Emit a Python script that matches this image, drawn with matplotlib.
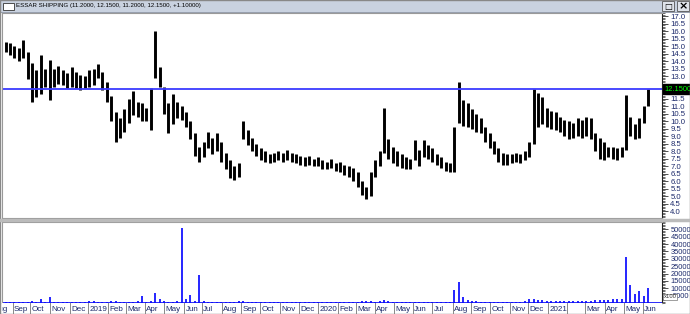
import numpy as np
import pandas as pd
import matplotlib
matplotlib.use("Agg")
import matplotlib.pyplot as plt
import matplotlib.patches as patches
from matplotlib.ticker import MultipleLocator, FixedLocator

# weekly bars, week ending Friday, Aug 2018 .. Jun 2021 (148 weeks)
week_end = pd.date_range("2018-08-17", "2021-06-11", freq="W-FRI")

high = [
    15.6, 15.3, 15.2,                      # Aug 2018
    15.0, 14.9, 15.4, 14.6,                # Sep
    13.9, 13.4, 14.4, 13.5,                # Oct
    14.1, 13.5, 13.7, 13.4, 13.2,          # Nov
    13.6, 13.3, 13.1, 13.0,                # Dec
    13.4, 13.5, 13.8, 13.3,                # Jan 2019
    12.6, 11.7, 10.6, 10.2,                # Feb
    10.8, 11.5, 12.0, 11.3, 11.2,          # Mar
    10.9, 12.2, 16.0, 13.6,                # Apr
    12.3, 11.2, 11.8, 11.3, 11.0,          # May
    10.6, 10.0, 9.2, 8.3,                  # Jun
    8.6, 9.3, 8.9, 9.2,                    # Jul
    8.6, 7.9, 7.4, 7.0, 7.2,               # Aug
    10.0, 9.4, 8.9, 8.5,                   # Sep
    8.2, 8.0, 7.8, 7.9,                    # Oct
    8.0, 7.9, 8.1, 7.9, 7.8,               # Nov
    7.7, 7.6, 7.7, 7.5,                    # Dec
    7.6, 7.4, 7.3, 7.5, 7.2,               # Jan 2020
    7.3, 7.1, 7.0, 6.9,                    # Feb
    6.6, 6.0, 5.6, 6.6,                    # Mar
    7.4, 8.0, 10.9, 8.8,                   # Apr
    8.3, 8.0, 7.8, 7.6, 7.5,               # May
    8.75, 8.1, 8.75, 8.4,                  # Jun
    8.2, 7.8, 7.6, 7.3, 7.2,               # Jul
    9.6, 12.6, 11.4, 11.2,                 # Aug
    10.8, 10.5, 10.2, 9.6,                 # Sep
    9.2, 8.7, 8.2, 7.9, 7.8,               # Oct
    7.8, 7.9, 7.8, 8.0,                    # Nov
    8.6, 12.15, 11.9, 11.6,                # Dec
    10.9, 10.7, 10.6, 10.3, 10.1,          # Jan 2021
    10.0, 9.9, 10.2, 10.1,                 # Feb
    10.3, 10.2, 9.2, 8.9,                  # Mar
    8.6, 8.3, 8.3, 8.2, 8.3,               # Apr
    11.75, 10.3, 9.8, 10.2,                # May
    11.0, 12.15,                           # Jun
]
low = [
    14.9, 14.6, 14.4,
    14.2, 14.0, 14.2, 12.8,
    11.3, 11.6, 11.8, 12.3,
    11.4, 12.3, 12.5, 12.4, 12.2,
    12.3, 12.2, 12.1, 12.2,
    12.3, 12.4, 12.9, 12.1,
    11.3, 10.0, 8.6, 8.9,
    9.3, 9.9, 10.4, 10.3, 10.0,
    10.0, 9.4, 12.9, 12.3,
    10.5, 9.2, 9.8, 10.2, 10.1,
    9.6, 8.8, 7.7, 7.3,
    7.6, 8.2, 7.8, 8.0,
    7.3, 6.8, 6.2, 6.1, 6.3,
    8.8, 8.4, 8.0, 7.7,
    7.4, 7.3, 7.2, 7.3,
    7.4, 7.3, 7.4, 7.3, 7.2,
    7.1, 7.0, 7.1, 7.0,
    7.0, 6.8, 6.8, 6.9, 6.7,
    6.6, 6.4, 6.3, 6.0,
    5.6, 5.1, 4.8, 5.0,
    6.3, 7.0, 7.9, 7.5,
    7.2, 7.0, 6.9, 6.8, 6.8,
    7.4, 7.0, 7.6, 7.5,
    7.3, 7.1, 6.9, 6.7, 6.6,
    6.6, 9.9, 9.7, 9.6,
    9.5, 9.3, 9.2, 8.6,
    8.2, 7.8, 7.3, 7.1, 7.1,
    7.2, 7.3, 7.2, 7.4,
    7.6, 8.5, 9.6, 9.8,
    9.6, 9.5, 9.4, 9.3, 9.0,
    8.8, 8.9, 9.0, 8.9,
    9.0, 8.8, 8.0, 7.5,
    7.4, 7.6, 7.5, 7.4, 7.6,
    8.1, 9.0, 8.8, 8.9,
    9.9, 11.0,
]
# volume (x100)
volume = [
    300, 400, 500,
    600, 400, 500, 900,
    1200, 800, 2500, 900,
    3800, 1000, 700, 600, 500,
    500, 400, 400, 500,
    1500, 1200, 800, 700,
    900, 1100, 1400, 800,
    600, 700, 800, 1200, 4700,
    900, 1500, 7000, 2500,
    1500, 1000, 900, 1200, 51000,
    2500, 5500, 1500, 19000,
    1500, 900, 700, 600,
    700, 800, 900, 1000, 1200,
    1500, 900, 700, 600,
    500, 500, 400, 500,
    400, 500, 400, 400, 500,
    400, 400, 500, 400,
    500, 400, 500, 400, 500,
    500, 600, 600, 700,
    900, 1200, 1500, 1100,
    900, 1200, 2200, 1300,
    800, 700, 600, 600, 500,
    900, 800, 1000, 700,
    600, 500, 500, 600, 700,
    9000, 14000, 4000, 2000,
    1500, 1200, 1000, 900,
    800, 700, 700, 600, 600,
    700, 800, 900, 1200,
    2500, 2800, 2200, 1800,
    1500, 1600, 1400, 1300, 1200,
    1300, 1500, 1400, 1300,
    1500, 1600, 1800, 2200,
    2000, 2100, 2400, 2600, 3000,
    31000, 12000, 6000, 8000,
    5000, 10000,
]
last_price = 12.15
title = "ESSAR SHIPPING (11.2000, 12.1500, 11.2000, 12.1500, +1.10000)"

month_starts = pd.date_range("2018-08-01", "2021-06-01", freq="BMS")
month_labels = [d.strftime("%Y") if d.month == 1 else d.strftime("%b") for d in month_starts]
month_labels[month_starts.get_loc(pd.Timestamp("2021-02-01"))] = ""

origin = "2018-08-16"
def bday_pos(dates):
    return np.busday_count(origin, np.array(dates, dtype="datetime64[D]"))

x = bday_pos(week_end - pd.Timedelta(days=2))
mx = bday_pos(month_starts)

W, H = 690, 314
fig = plt.figure(figsize=(W / 100, H / 100), dpi=100)
fig.patch.set_facecolor("white")
lab_col = "#1c2a6b"
fam = ["Liberation Sans Narrow", "Liberation Sans", "DejaVu Sans"]

def rect(x0, y0, w, h):
    return [x0 / W, 1 - (y0 + h) / H, w / W, h / H]

# title bar
fig.patches.append(patches.Rectangle((0, 1 - 12 / H), 1, 12 / H, transform=fig.transFigure,
                                     facecolor="#c9d2e0", edgecolor="#8a93a3", lw=0.6))
fig.patches.append(patches.Rectangle((3 / W, 1 - 10 / H), 11 / W, 7 / H, transform=fig.transFigure,
                                     facecolor="white", edgecolor="#333333", lw=0.6))
for bx in (662, 677):
    fig.patches.append(patches.Rectangle((bx / W, 1 - 11 / H), 12 / W, 10 / H, transform=fig.transFigure,
                                         facecolor="#dfe3ea", edgecolor="#555555", lw=0.6))
fig.text(668 / W, 1 - 6 / H, "\u25a1", fontsize=6, ha="center", va="center", color="black")
fig.text(683 / W, 1 - 6 / H, "\u00d7", fontsize=8, ha="center", va="center", color="black", weight="bold")
fig.text(16 / W, 1 - 6 / H, title, fontsize=4.4, family=fam, ha="left", va="center", color="black")

xmin, xmax = 0, 750

# price panel
ax = fig.add_axes(rect(2, 13, 660, 205))
ax.vlines(x, low, high, color="black", lw=2.1)
ax.axhline(last_price, color="#3a3aff", lw=1.3)
ax.set_xlim(xmin, xmax)
ax.set_ylim(3.55, 17.22)
ax.set_xticks([])
ax.yaxis.tick_right()
ax.yaxis.set_major_locator(FixedLocator(np.arange(4.0, 17.01, 0.5)))
ax.yaxis.set_minor_locator(MultipleLocator(0.1))
ax.tick_params(axis="y", which="major", length=4, width=0.6, color="#333333",
               labelsize=5.6, labelcolor=lab_col, pad=2)
ax.tick_params(axis="y", which="minor", length=2, width=0.5, color="#333333")
ax.yaxis.set_major_formatter(plt.FuncFormatter(
    lambda v, p: "" if 11.9 < v < 12.6 else f"{v:.1f}"))
for lbl in ax.get_yticklabels():
    lbl.set_family(fam)
for s in ["left", "top", "bottom"]:
    ax.spines[s].set_color("#999999")
    ax.spines[s].set_linewidth(0.8)
ax.spines["right"].set_color("#222222")
ax.spines["right"].set_linewidth(0.8)
ax.text(1.003, (last_price - 3.55) / (17.22 - 3.55), f"{last_price:.4f}", transform=ax.transAxes,
        ha="left", va="center", fontsize=5.4, family=fam, color="#00ff00",
        bbox=dict(boxstyle="square,pad=0.15", facecolor="black", edgecolor="black"))

# volume panel
vax = fig.add_axes(rect(2, 222, 660, 81))
vax.vlines(x, 0, volume, color="#0000ff", lw=1.2)
vax.axhline(0, color="#0000ff", lw=1.2)
vax.set_xlim(xmin, xmax)
vax.set_ylim(0, 55000)
vax.set_xticks([])
vax.yaxis.tick_right()
vax.yaxis.set_major_locator(FixedLocator(np.arange(10000, 50001, 5000)))
vax.yaxis.set_minor_locator(MultipleLocator(1000))
vax.tick_params(axis="y", which="major", length=4, width=0.6, color="#333333",
                labelsize=5.4, labelcolor=lab_col, pad=2)
vax.tick_params(axis="y", which="minor", length=2, width=0.5, color="#333333")
for lbl in vax.get_yticklabels():
    lbl.set_family(fam)
for s in ["left", "top", "bottom"]:
    vax.spines[s].set_color("#999999")
    vax.spines[s].set_linewidth(0.8)
vax.spines["right"].set_color("#222222")
vax.spines["right"].set_linewidth(0.8)
# "x100" marker partly covers the 5000 label, as in the original
fig.text(664 / W, 1 - 297 / H, "x100", fontsize=4.2, family=fam, color="#333333", ha="left", va="center",
         bbox=dict(boxstyle="square,pad=0.1", facecolor="white", edgecolor="#777777", lw=0.5))
fig.text(689 / W, 1 - 296 / H, "5000", fontsize=5.4, family=fam, color=lab_col, ha="right", va="center",
         zorder=-1)

# month label row
tax = fig.add_axes(rect(2, 303, 660, 11))
tax.set_xlim(xmin, xmax)
tax.set_ylim(0, 1)
tax.set_xticks([])
tax.set_yticks([])
for s in tax.spines.values():
    s.set_visible(False)
for m, lab in zip(mx, month_labels):
    tax.axvline(m, color="#888888", lw=0.7)
    tax.text(m + 1.5, 0.45, lab, fontsize=5.8, family=fam, color=lab_col, ha="left", va="center", clip_on=True)

# separator between panels and outer frame
fig.lines.append(plt.Line2D([0, 1], [1 - 220 / H] * 2, transform=fig.transFigure, color="#bbbbbb", lw=2.5))
fig.patches.append(patches.Rectangle((0, 0), 1, 1, transform=fig.transFigure, fill=False,
                                     edgecolor="#888888", lw=1))

fig.savefig("out.png", dpi=100)
